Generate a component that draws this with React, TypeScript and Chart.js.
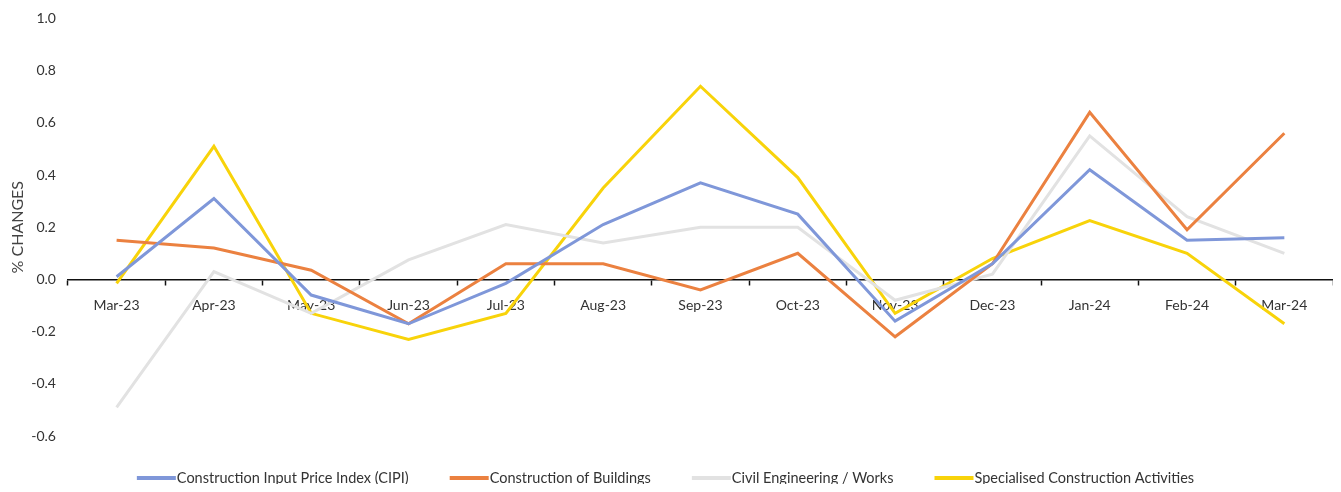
import React, { useEffect, useRef } from "react";
import { Chart, registerables } from "chart.js";

Chart.register(...registerables);

const categories = [
  "Mar-23", "Apr-23", "May-23", "Jun-23", "Jul-23", "Aug-23", "Sep-23",
  "Oct-23", "Nov-23", "Dec-23", "Jan-24", "Feb-24", "Mar-24",
];
const seriesNames = [
  "Construction Input Price Index (CIPI)",
  "Construction of Buildings",
  "Civil Engineering / Works",
  "Specialised Construction Activities",
];
const cipi = [0.01, 0.31, -0.06, -0.17, -0.015, 0.21, 0.37, 0.25, -0.16, 0.06, 0.42, 0.15, 0.16];
const buildings = [0.15, 0.12, 0.035, -0.17, 0.06, 0.06, -0.04, 0.1, -0.22, 0.06, 0.64, 0.19, 0.56];
const civil = [-0.49, 0.03, -0.13, 0.075, 0.21, 0.14, 0.2, 0.2, -0.08, 0.02, 0.55, 0.24, 0.1];
const specialised = [-0.015, 0.51, -0.13, -0.23, -0.13, 0.35, 0.74, 0.39, -0.13, 0.08, 0.225, 0.1, -0.17];
const yMin = -0.6;
const yMax = 1.0;
const yStep = 0.2;
const yTitle = "% CHANGES";

const colors = ["#7f97d9", "#eb8140", "#e2e2e2", "#f8d30a"];
const FONT = "Lato, 'Open Sans', sans-serif";

const bottomLegend = {
  id: "bottomLegend",
  afterDraw(chart: any) {
    const ctx = chart.ctx as CanvasRenderingContext2D;
    ctx.save();
    ctx.font = `14.5px ${FONT}`;
    const lineLen = 39;
    const textGap = 1;
    const gap = 41;
    const items = chart.data.datasets.map((ds: any) => ({
      label: ds.label as string,
      color: ds.borderColor as string,
      w: ctx.measureText(ds.label).width,
    }));
    let total = 0;
    items.forEach((it: any, i: number) => {
      total += lineLen + textGap + it.w + (i < items.length - 1 ? gap : 0);
    });
    let x = (chart.width - total) / 2 - 5;
    const y = chart.height - 14;
    ctx.textBaseline = "middle";
    ctx.textAlign = "left";
    items.forEach((it: any) => {
      ctx.strokeStyle = it.color;
      ctx.lineWidth = 4;
      ctx.beginPath();
      ctx.moveTo(x, y);
      ctx.lineTo(x + lineLen, y);
      ctx.stroke();
      ctx.fillStyle = "#333";
      ctx.fillText(it.label, x + lineLen + textGap, y);
      x += lineLen + textGap + it.w + gap;
    });
    ctx.restore();
  },
};

export default function App() {
  const ref = useRef<HTMLCanvasElement | null>(null);
  useEffect(() => {
    if (!ref.current) return;
    const values = [cipi, buildings, civil, specialised];
    const chart = new Chart(ref.current, {
      type: "line",
      data: {
        labels: categories,
        datasets: values.map((v, i) => ({
          label: seriesNames[i],
          data: v,
          borderColor: colors[i],
          backgroundColor: colors[i],
          borderWidth: 3,
          pointRadius: 0,
          tension: 0,
          fill: false,
        })),
      },
      options: {
        animation: false,
        responsive: true,
        maintainAspectRatio: false,
        layout: { padding: { top: 0, bottom: 56, left: 0, right: 0 } },
        plugins: {
          legend: { display: false },
          tooltip: { enabled: false },
        },
        scales: {
          x: {
            position: { y: 0 } as any,
            offset: true,
            grid: {
              display: true,
              drawOnChartArea: false,
              drawTicks: true,
              tickLength: 5,
              tickColor: "#111",
              tickWidth: 1.5,
              offset: true,
            },
            border: { display: true, color: "#111", width: 1.5 },
            ticks: {
              color: "#333",
              padding: 13,
              font: { family: FONT, size: 14 },
              maxRotation: 0,
              autoSkip: false,
            },
          },
          y: {
            min: yMin,
            max: yMax,
            grid: { display: false, drawTicks: true, tickLength: 10 },
            border: { display: false },
            ticks: {
              stepSize: yStep,
              color: "#333",
              padding: 2,
              font: { family: FONT, size: 14 },
              callback: (v: any) => {
                const n = Number(v);
                return (Math.abs(n) < 1e-9 ? 0 : n).toFixed(1);
              },
            },
            title: {
              display: true,
              text: yTitle,
              color: "#444",
              font: { family: FONT, size: 16 },
              padding: { top: 0, bottom: 2 },
            },
          },
        },
      },
      plugins: [bottomLegend],
    });
    return () => chart.destroy();
  }, []);
  return (
    <div style={{ position: "relative", width: "100%", height: "484px", marginBottom: "-8px" }}>
      <canvas ref={ref} />
    </div>
  );
}
